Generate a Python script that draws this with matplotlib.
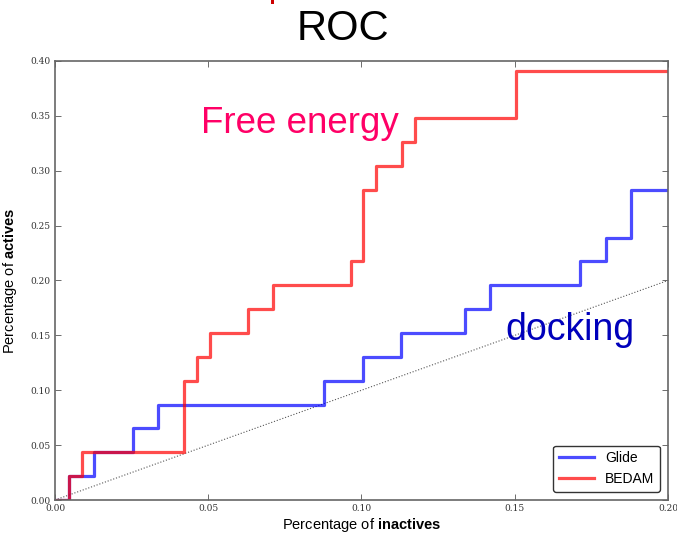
import numpy as np
import matplotlib
matplotlib.use("Agg")
import matplotlib.pyplot as plt
from matplotlib.patches import Rectangle

# mixed regular/bold axis labels through mathtext in a sans font
plt.rcParams['mathtext.fontset'] = 'custom'
plt.rcParams['mathtext.rm'] = 'Liberation Sans'
plt.rcParams['mathtext.bf'] = 'Liberation Sans:bold'

n_actives = 46

# ROC steps: fraction of inactives where each new active is found
glide_x = [0, 0.0047, 0.0128, 0.0253, 0.0337, 0.0878, 0.1004, 0.1129,
           0.1338, 0.1419, 0.1713, 0.1798, 0.1880, 0.2]
glide_hits = [0, 1, 2, 3, 4, 5, 6, 7, 8, 9, 10, 11, 13, 13]

bedam_x = [0, 0.0047, 0.0087, 0.0420, 0.0462, 0.0506, 0.0630, 0.0712,
           0.0965, 0.1004, 0.1046, 0.1131, 0.1175, 0.1504, 0.2]
bedam_hits = [0, 1, 2, 5, 6, 7, 8, 9, 10, 13, 14, 15, 16, 18, 18]

diag = [0, 0.2]

glide_y = np.array(glide_hits) / n_actives
bedam_y = np.array(bedam_hits) / n_actives

fig = plt.figure(figsize=(6.77, 5.33), dpi=100)
ax = fig.add_axes([0.0812, 0.0619, 0.9055, 0.8237])

ax.plot(diag, diag, ':', color='#555555', lw=0.8)
ax.step(glide_x, glide_y, where='post', color='blue', alpha=0.7, lw=2.3, label='Glide')
ax.step(bedam_x, bedam_y, where='post', color='red', alpha=0.7, lw=2.3, label='BEDAM')

ax.set_xlim(0, 0.2)
ax.set_ylim(0, 0.4)
ax.set_xticks(np.arange(0, 0.201, 0.05))
ax.set_yticks(np.arange(0, 0.401, 0.05))
ax.set_xticklabels(['%.2f' % v for v in np.arange(0, 0.201, 0.05)],
                   family='DejaVu Serif', fontsize=6.5, color='#333333')
ax.set_yticklabels(['%.2f' % v for v in np.arange(0, 0.401, 0.05)],
                   family='DejaVu Serif', fontsize=6.5, color='#333333')
ax.tick_params(direction='in', length=4, width=0.6, top=True, right=True,
               color='#555555', pad=3)
for s in ax.spines.values():
    s.set_color('#666666')
    s.set_linewidth(1.2)

ax.set_xlabel(r'Percentage of $\bf{inactives}$', family='Liberation Sans',
              fontsize=10.5, labelpad=2)
ax.set_ylabel(r'Percentage of $\bf{actives}$', family='Liberation Sans',
              fontsize=10.5, labelpad=8)

leg = ax.legend(loc='lower right', prop={'family': 'Liberation Sans', 'size': 10},
                handlelength=2.5, fancybox=True, framealpha=1,
                borderaxespad=0.6)
leg.get_frame().set_edgecolor('#333333')

ax.text(0.0476, 0.334, 'Free energy', color='#ff0066', fontsize=26.5,
        family='Liberation Sans', va='baseline')
ax.text(0.1468, 0.146, 'docking', color='#0000bb', fontsize=27,
        family='Liberation Sans', va='baseline')

fig.text(0.506, 0.945, 'ROC', ha='center', va='center', fontsize=30,
         family='Liberation Sans')
# bottom of the red heading above, cut off at the top edge
fig.patches.append(Rectangle((271 / 677, 1 - 4 / 533), 3 / 677, 4 / 533,
                             transform=fig.transFigure, color='#cc0000', lw=0))

fig.savefig('out.png', dpi=100)
